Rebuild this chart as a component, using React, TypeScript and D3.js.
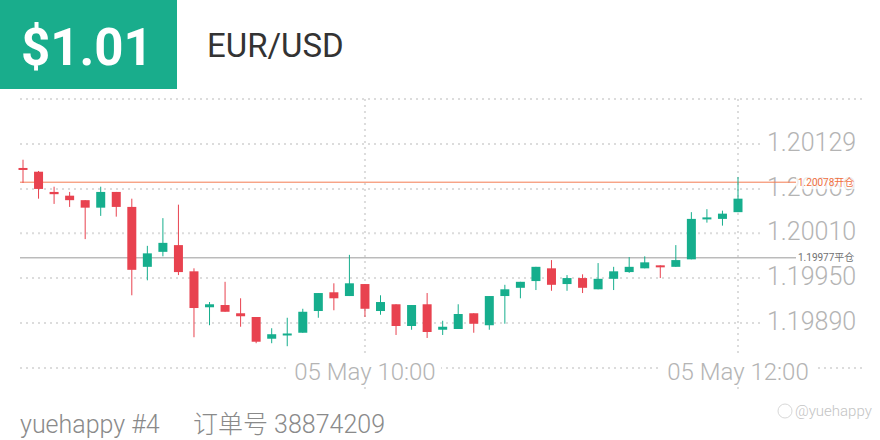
import React from "react";
import * as d3 from "d3";

const W = 880;
const H = 440;

// OHLC candles, 5-minute bars from 08:10 to 12:00 on 05 May
const opens = [1.20097, 1.20092, 1.20065, 1.2006, 1.20054, 1.20044, 1.20065, 1.20045, 1.19965, 1.19985, 1.19994, 1.19959, 1.19911, 1.19914, 1.19903, 1.19898, 1.19869, 1.19875, 1.19877, 1.19906, 1.19931, 1.19926, 1.19942, 1.19906, 1.19915, 1.19886, 1.19915, 1.19881, 1.19882, 1.19903, 1.19887, 1.19926, 1.19937, 1.19946, 1.19963, 1.19942, 1.1995, 1.19935, 1.19949, 1.19958, 1.19963, 1.19967, 1.19965, 1.19975, 1.2003, 1.20029, 1.20038];
const highs = [1.20108, 1.20093, 1.20072, 1.20065, 1.20054, 1.20072, 1.20065, 1.20056, 1.19993, 1.2003, 1.20048, 1.19963, 1.19918, 1.19945, 1.19923, 1.19898, 1.19883, 1.19897, 1.19909, 1.1993, 1.19943, 1.19981, 1.19942, 1.19927, 1.19915, 1.19914, 1.1993, 1.19893, 1.19915, 1.19903, 1.19926, 1.19941, 1.19945, 1.19965, 1.19974, 1.19954, 1.19955, 1.1997, 1.19965, 1.19978, 1.19979, 1.19967, 1.19994, 1.20038, 1.20042, 1.2004, 1.20085];
const lows = [1.20077, 1.20056, 1.20049, 1.20045, 1.20002, 1.20033, 1.20032, 1.19927, 1.19947, 1.19979, 1.19954, 1.19871, 1.19887, 1.19905, 1.19885, 1.19863, 1.19863, 1.19859, 1.19877, 1.19897, 1.19907, 1.19926, 1.19898, 1.19901, 1.19874, 1.19881, 1.1987, 1.19874, 1.19882, 1.19877, 1.19881, 1.19889, 1.19923, 1.19934, 1.19933, 1.19933, 1.1993, 1.19935, 1.19934, 1.19957, 1.19963, 1.1995, 1.19965, 1.19975, 1.20024, 1.2002, 1.20038];
const closes = [1.20095, 1.20069, 1.20062, 1.20054, 1.20044, 1.20065, 1.20045, 1.19961, 1.19983, 1.19997, 1.19958, 1.1991, 1.19915, 1.19905, 1.19899, 1.19865, 1.19875, 1.19876, 1.19905, 1.1993, 1.19923, 1.19943, 1.19909, 1.19918, 1.19886, 1.19914, 1.19878, 1.19885, 1.19902, 1.19889, 1.19926, 1.19935, 1.19945, 1.19965, 1.19941, 1.1995, 1.19937, 1.19949, 1.19959, 1.19965, 1.19971, 1.19965, 1.19974, 1.20029, 1.20031, 1.20036, 1.20056];

const priceTicks = [1.20129, 1.20069, 1.2001, 1.1995, 1.1989];
const timeTicks = ["10:00", "12:00"];
const openPrice = 1.20078;
const closePrice = 1.19977;

const startTime = new Date(2021, 4, 5, 8, 10);
const times = opens.map((_, i) => new Date(startTime.getTime() + i * 5 * 60000));
const parseTick = (s: string) => {
  const [h, m] = s.split(":").map(Number);
  return new Date(2021, 4, 5, h, m);
};

const GREEN = "#16ae8d";
const RED = "#e8424f";
const GRID = "#dcdcdc";
const FONT = "Roboto, 'Noto Sans', 'Noto Sans CJK SC', sans-serif";

export default function App() {
  const x = d3
    .scaleTime()
    .domain([times[0], times[times.length - 1]])
    .range([23, 738]);
  const y = d3.scaleLinear().domain([1.20129, 1.1989]).range([144, 323]);
  const bodyW = 9;
  const fmtTime = d3.timeFormat("%d %b %H:%M");

  return (
    <svg
      width={W}
      height={H}
      style={{ position: "absolute", left: 0, top: 0, background: "#fff" }}
    >
      {/* header */}
      <rect x={0} y={0} width={177} height={89} fill="#19ad8c" />
      <text x={21} y={65} fill="#fff" fontFamily={FONT} fontWeight={700} fontSize={51}>
        $1.01
      </text>
      <text x={207} y={57} fill="#333" fontFamily={FONT} fontSize={33}>
        EUR/USD
      </text>

      {/* top gridline */}
      <line x1={20} x2={862} y1={99} y2={99} stroke={GRID} strokeWidth={2} strokeDasharray="2 4" />

      {/* horizontal price gridlines */}
      {priceTicks.map((p) => (
        <line key={p} x1={20} x2={762} y1={y(p)} y2={y(p)} stroke={GRID} strokeWidth={2} strokeDasharray="2 4" />
      ))}
      {/* bottom gridline */}
      <line x1={20} x2={862} y1={368} y2={368} stroke={GRID} strokeWidth={2} strokeDasharray="2 4" />

      {/* vertical gridlines */}
      {timeTicks.map((t) => (
        <line key={t} x1={x(parseTick(t))} x2={x(parseTick(t))} y1={99} y2={392} stroke={GRID} strokeWidth={2} strokeDasharray="2 4" />
      ))}

      {/* price labels */}
      {priceTicks.map((p) => (
        <text key={p} x={767} y={y(p) - 2} dy="0.35em" fill="#b4b4b4" fontFamily={FONT} fontWeight={300} fontSize={25}>
          {d3.format(".5f")(p)}
        </text>
      ))}

      {/* time labels */}
      {timeTicks.map((t) => {
        const tx = x(parseTick(t));
        return (
          <g key={t}>
            <rect x={tx - 76} y={357} width={152} height={28} fill="#fff" />
            <text x={tx} y={372} dy="0.35em" textAnchor="middle" fill="#b4b4b4" fontFamily={FONT} fontWeight={300} fontSize={24}>
              {fmtTime(parseTick(t))}
            </text>
          </g>
        );
      })}

      {/* reference lines */}
      <line x1={20} x2={796} y1={y(openPrice)} y2={y(openPrice)} stroke="#f47b52" strokeWidth={1} />
      <line x1={20} x2={796} y1={y(closePrice)} y2={y(closePrice)} stroke="#9a9a9a" strokeWidth={1} />

      {/* candles */}
      {opens.map((o, i) => {
        const c = closes[i];
        const up = c >= o;
        const col = up ? GREEN : RED;
        const cx = x(times[i]);
        const top = y(Math.max(o, c));
        const bot = y(Math.min(o, c));
        return (
          <g key={i}>
            <line x1={cx} x2={cx} y1={y(highs[i])} y2={y(lows[i])} stroke={col} strokeWidth={1} />
            <rect x={cx - bodyW / 2} y={top} width={bodyW} height={Math.max(2, bot - top)} fill={col} />
          </g>
        );
      })}

      {/* reference line labels */}
      <rect x={796} y={y(openPrice) - 7} width={62} height={14} fill="#fff" opacity={0.75} />
      <text x={798} y={y(openPrice)} dy="0.35em" fill="#f0703f" fontFamily={FONT} fontSize={10}>
        {d3.format(".5f")(openPrice)}开仓
      </text>
      <text x={798} y={y(closePrice)} dy="0.35em" fill="#707070" fontFamily={FONT} fontSize={10}>
        {d3.format(".5f")(closePrice)}平仓
      </text>

      {/* footer */}
      <text x={20} y={433} fill="#8a8a8a" fontFamily={FONT} fontWeight={300} fontSize={25}>
        yuehappy #4
      </text>
      <text x={193} y={433} fill="#8a8a8a" fontFamily={FONT} fontWeight={300} fontSize={25}>
        订单号 38874209
      </text>

      {/* watermark */}
      <circle cx={785} cy={411} r={7} fill="none" stroke="#d8d8d8" strokeWidth={1} />
      <text x={795} y={411} dy="0.35em" fill="#c4c4c4" fontFamily={FONT} fontWeight={300} fontSize={15}>
        @yuehappy
      </text>
    </svg>
  );
}
